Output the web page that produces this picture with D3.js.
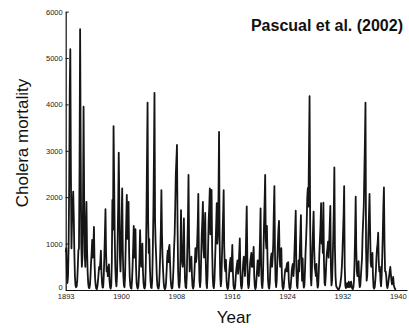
<!DOCTYPE html>
<html><head><meta charset="utf-8">
<script src="https://cdn.jsdelivr.net/npm/d3@7"></script>
<style>
html,body{margin:0;padding:0;background:#fff;}
svg{display:block;font-family:"Liberation Sans",Arial,Helvetica,sans-serif;}
</style></head>
<body><svg id="c" width="409" height="328"></svg>
<script>
// Monthly cholera mortality, starting January 1893 (one row per year)
const mortality = [
820,900,350,150,300,900,2200,4300,5190,2600,900,1500,
1800,2120,1600,800,300,100,60,80,200,500,850,900,
2600,5620,3000,1000,500,700,1800,3950,2000,800,500,1200,
1900,900,400,150,50,40,100,300,600,800,1080,700,
900,1360,600,250,100,30,20,80,200,350,500,450,
600,850,400,150,50,60,300,700,1200,1740,800,400,
500,300,450,550,200,60,30,100,600,1940,1300,3530,
2400,1200,500,200,80,300,1000,1800,2960,1900,700,400,
800,1500,2190,900,300,100,60,300,900,1500,2050,1100,
1200,1900,800,300,100,40,30,200,500,900,1380,700,
1000,1310,500,150,60,30,80,300,700,1290,800,500,
700,1000,400,150,50,30,100,600,1500,2800,4040,1500,
800,1100,500,200,60,40,200,800,1600,2800,4250,1500,
1000,700,300,100,40,30,100,400,800,1300,2150,1200,
700,400,150,50,20,40,150,400,700,850,600,900,
970,600,250,80,30,40,200,500,900,1200,1800,2500,
2800,3125,1400,400,100,50,200,700,1720,900,600,500,
900,1545,700,200,60,40,300,900,1500,2480,1100,400,
600,500,720,300,80,30,80,300,600,900,600,700,
1000,1400,2070,800,200,60,200,700,1200,1500,1900,900,
700,1200,1660,600,150,40,300,900,1500,1800,2190,1200,
1500,2155,900,300,80,40,200,600,1000,1400,1870,1000,
1200,2000,3410,1100,300,80,200,700,1200,1600,2150,900,
500,400,650,200,60,20,60,250,450,600,690,400,
600,970,400,100,30,20,80,300,450,550,640,350,
500,800,1110,400,100,30,100,400,600,720,500,300,
600,1200,1800,700,150,40,100,400,600,700,800,500,
500,700,930,300,80,20,60,250,450,640,400,300,
600,1100,1760,500,120,40,200,800,1400,1900,2480,1100,
900,1380,700,200,60,30,150,500,700,790,500,700,
1000,1700,2240,800,200,60,200,600,1000,1300,1490,700,
500,700,900,300,80,20,50,200,350,450,400,500,
580,400,600,200,50,20,50,200,400,500,560,300,
500,900,1300,1710,500,100,40,300,640,400,800,1200,
1615,700,200,680,200,50,100,400,800,1100,1440,2000,
2200,1800,3000,4180,1500,300,100,400,900,1300,1690,900,
500,400,300,560,200,50,100,400,800,1100,1400,1870,
1000,1300,800,1880,600,150,100,300,600,800,900,1040,
700,1000,1400,1810,500,100,200,600,1100,1700,2640,900,
300,100,60,40,20,10,20,60,100,200,300,500,
800,1200,1600,2240,500,100,40,60,150,100,60,180,
100,60,150,180,80,30,20,60,200,600,1200,2010,
900,400,300,500,620,200,60,100,300,500,690,1200,
1500,1800,2500,3200,4040,900,200,300,700,1200,1600,2070,
1300,600,500,650,800,300,60,30,60,200,400,700,
900,1000,1235,600,400,500,200,80,300,700,1200,1800,
2210,1000,400,400,300,100,40,100,200,300,400,500,
350,200,120,180,280,120,60,30,15,10
];
const xTickMonths = [0, 96, 192, 288, 384, 480, 576];
const xTickLabels = ["1893", "1900", "1908", "1916", "1924", "1932", "1940"];
const yTicks = [0, 1000, 2000, 3000, 4000, 5000, 6000];
const title = "Pascual et al. (2002)";
const xTitle = "Year";
const yTitle = "Cholera mortality";

const svg = d3.select("#c");
const x = d3.scaleLinear().domain([0, 592]).range([65.7, 407]);
const y = d3.scaleLinear().domain([0, 6000]).range([290, 11.6]);

const line = d3.line().x((d, i) => x(i)).y(d => y(d));
svg.append("path").datum(mortality)
  .attr("d", line).attr("fill", "none")
  .attr("stroke", "#151515").attr("stroke-width", 1.8)
  .attr("stroke-linejoin", "round");

const xa = svg.append("g").attr("transform", "translate(0,290)")
  .call(d3.axisBottom(x).tickValues(xTickMonths)
    .tickFormat((d, i) => xTickLabels[i]).tickSize(0).tickPadding(4));
xa.select(".domain").attr("stroke", "#111").attr("stroke-width", 1.2);
xa.selectAll("text").attr("font-size", 7.5).attr("fill", "#222")
  .attr("font-family", "Liberation Sans, Arial, sans-serif");

const ya = svg.append("g").attr("transform", "translate(65.7,0)")
  .call(d3.axisLeft(y).tickValues(yTicks).tickFormat(d3.format("d"))
    .tickSizeInner(-3).tickSizeOuter(0).tickPadding(3));
ya.select(".domain").attr("stroke", "#111").attr("stroke-width", 1.2);
ya.selectAll(".tick line").attr("stroke", "#111");
ya.selectAll("text").attr("font-size", 7.5).attr("fill", "#222")
  .attr("font-family", "Liberation Sans, Arial, sans-serif");
ya.selectAll(".tick").filter(d => d === 0).select("text").attr("dy", "-0.05em");

svg.append("text").attr("x", 403).attr("y", 31).attr("text-anchor", "end")
  .attr("font-size", 16).attr("font-weight", "bold").attr("fill", "#111").text(title);
svg.append("text").attr("x", 234).attr("y", 323).attr("text-anchor", "middle")
  .attr("font-size", 17).attr("fill", "#111").text(xTitle);
svg.append("text").attr("transform", "translate(28,143) rotate(-90)")
  .attr("text-anchor", "middle").attr("font-size", 17).attr("fill", "#111").text(yTitle);
</script></body></html>
